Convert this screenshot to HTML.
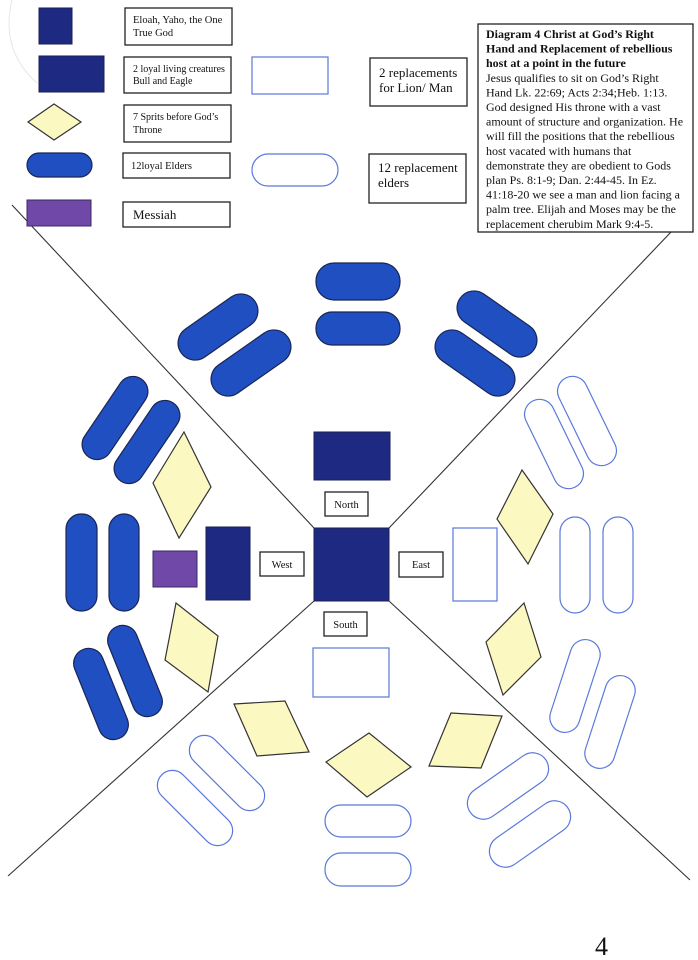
<!DOCTYPE html>
<html><head><meta charset="utf-8"><style>
html,body{margin:0;padding:0;background:#fff;}
svg{display:block;}
text{font-family:"Liberation Serif",serif;fill:#111;}
</style></head><body>
<svg width="698" height="960" viewBox="0 0 698 960" xmlns="http://www.w3.org/2000/svg">
<defs>
<style>
.nv{fill:#1e2a82;stroke:#1a1f55;stroke-width:1}
.el{fill:#1f4fc0;stroke:#1a2555;stroke-width:1.2}
.ol{fill:#fff;stroke:#5a78dc;stroke-width:1.2}
.dm{fill:#fcf8c2;stroke:#333;stroke-width:1.2}
.lb{fill:#fff;stroke:#222;stroke-width:1.3}
.ln{stroke:#333;stroke-width:1.1;fill:none}
</style>
</defs>
<path d="M12 0 Q0 50 37 83" fill="none" stroke="#e6e6e6" stroke-width="1"/>
<!-- diagonals -->
<line class="ln" x1="12" y1="205" x2="314" y2="528"/>
<line class="ln" x1="671" y1="232" x2="389" y2="528"/>
<line class="ln" x1="314" y1="601" x2="8" y2="876"/>
<line class="ln" x1="389" y1="601" x2="690" y2="880"/>

<!-- legend -->
<rect class="nv" x="39" y="8" width="33" height="36"/>
<rect class="lb" x="125" y="8" width="107" height="37"/>
<text x="133" y="23" font-size="10.5">Eloah, Yaho, the One</text>
<text x="133" y="36" font-size="10.5">True God</text>

<rect class="nv" x="39" y="56" width="65" height="36"/>
<rect class="lb" x="124" y="57" width="107" height="36"/>
<text x="133" y="72" font-size="10">2 loyal living creatures</text>
<text x="133" y="84" font-size="10">Bull and Eagle</text>
<rect class="ol" x="252" y="57" width="76" height="37"/>
<rect class="lb" x="370" y="58" width="97" height="48"/>
<text x="379" y="77" font-size="13">2 replacements</text>
<text x="379" y="92" font-size="13">for Lion/ Man</text>

<polygon class="dm" points="54,104 81,122 54,140 28,122"/>
<rect class="lb" x="124" y="105" width="107" height="37"/>
<text x="133" y="120" font-size="10">7 Sprits before God’s</text>
<text x="133" y="133" font-size="10">Throne</text>

<rect class="el" x="27" y="153" width="65" height="24" rx="12"/>
<rect class="lb" x="123" y="153" width="107" height="25"/>
<text x="131" y="169" font-size="10.5">12loyal Elders</text>
<rect class="ol" x="252" y="154" width="86" height="32" rx="16"/>
<rect class="lb" x="369" y="154" width="97" height="49"/>
<text x="378" y="172" font-size="13">12 replacement</text>
<text x="378" y="187" font-size="13">elders</text>

<rect x="27" y="200" width="64" height="26" fill="#7048a8" stroke="#3a2a60" stroke-width="1"/>
<rect class="lb" x="123" y="202" width="107" height="25"/>
<text x="133" y="219" font-size="13">Messiah</text>

<!-- description box -->
<rect class="lb" x="478" y="24" width="215" height="208"/>
<g font-size="12">
<text x="486" y="38" font-weight="bold">Diagram 4  Christ at God’s Right</text>
<text x="486" y="52.6" font-weight="bold">Hand and Replacement of rebellious</text>
<text x="486" y="67.2" font-weight="bold">host at a point in the future</text>
<text x="486" y="81.8">Jesus qualifies to sit on God’s Right</text>
<text x="486" y="96.4">Hand Lk. 22:69; Acts 2:34;Heb. 1:13.</text>
<text x="486" y="111">God designed His throne with a vast</text>
<text x="486" y="125.6">amount of structure and organization. He</text>
<text x="486" y="140.2">will fill the positions that the rebellious</text>
<text x="486" y="154.8">host vacated with humans that</text>
<text x="486" y="169.4">demonstrate they are obedient to Gods</text>
<text x="486" y="184">plan Ps. 8:1-9; Dan. 2:44-45. In Ez.</text>
<text x="486" y="198.6">41:18-20 we see a man and lion facing a</text>
<text x="486" y="213.2">palm tree. Elijah and Moses may be the</text>
<text x="486" y="227.8">replacement cherubim Mark 9:4-5.</text>
</g>

<!-- top elders -->
<rect class="el" x="316" y="263" width="84" height="37" rx="18"/>
<rect class="el" x="316" y="312" width="84" height="33" rx="16"/>
<g transform="translate(218,327) rotate(-35)"><rect class="el" x="-45" y="-17" width="90" height="34" rx="17"/></g>
<g transform="translate(251,363) rotate(-35)"><rect class="el" x="-45" y="-17" width="90" height="34" rx="17"/></g>
<g transform="translate(497,324) rotate(35)"><rect class="el" x="-45" y="-17" width="90" height="34" rx="17"/></g>
<g transform="translate(475,363) rotate(35)"><rect class="el" x="-45" y="-17" width="90" height="34" rx="17"/></g>

<!-- left side -->
<g transform="translate(115,418) rotate(-56)"><rect class="el" x="-47" y="-15" width="94" height="30" rx="15"/></g>
<g transform="translate(147,442) rotate(-56)"><rect class="el" x="-47" y="-15" width="94" height="30" rx="15"/></g>
<polygon class="dm" points="184,432 211,487 179,538 153,483"/>
<rect class="el" x="66" y="514" width="31" height="97" rx="15"/>
<rect class="el" x="109" y="514" width="30" height="97" rx="15"/>
<rect x="153" y="551" width="44" height="36" fill="#7048a8" stroke="#3a2a60" stroke-width="1"/>
<rect class="nv" x="206" y="527" width="44" height="73"/>
<polygon class="dm" points="176,603 218,636 208,692 165,660"/>
<g transform="translate(135,671) rotate(68)"><rect class="el" x="-48" y="-15" width="96" height="30" rx="15"/></g>
<g transform="translate(101,694) rotate(68)"><rect class="el" x="-48" y="-15" width="96" height="30" rx="15"/></g>

<!-- center -->
<rect class="nv" x="314" y="432" width="76" height="48"/>
<rect class="nv" x="314" y="528" width="75" height="73"/>
<rect class="lb" x="325" y="492" width="43" height="24"/>
<text x="346.5" y="508" font-size="10.5" text-anchor="middle">North</text>
<rect class="lb" x="260" y="552" width="44" height="24"/>
<text x="282" y="568" font-size="10.5" text-anchor="middle">West</text>
<rect class="lb" x="399" y="552" width="44" height="25"/>
<text x="421" y="568" font-size="10.5" text-anchor="middle">East</text>
<rect class="lb" x="324" y="612" width="43" height="24"/>
<text x="345.5" y="628" font-size="10.5" text-anchor="middle">South</text>
<rect class="ol" x="313" y="648" width="76" height="49"/>

<!-- right side -->
<g transform="translate(554,444) rotate(64)"><rect class="ol" x="-48" y="-15" width="96" height="30" rx="15"/></g>
<g transform="translate(587,421) rotate(64)"><rect class="ol" x="-48" y="-15" width="96" height="30" rx="15"/></g>
<polygon class="dm" points="522,470 553,514 528,564 497,519"/>
<rect class="ol" x="453" y="528" width="44" height="73"/>
<rect class="ol" x="560" y="517" width="30" height="96" rx="15"/>
<rect class="ol" x="603" y="517" width="30" height="96" rx="15"/>
<polygon class="dm" points="524,603 541,657 503,695 486,642"/>
<g transform="translate(575,686) rotate(-72)"><rect class="ol" x="-48" y="-15" width="96" height="30" rx="15"/></g>
<g transform="translate(610,722) rotate(-72)"><rect class="ol" x="-48" y="-15" width="96" height="30" rx="15"/></g>

<!-- bottom -->
<polygon class="dm" points="234,704 285,701 309,752 257,756"/>
<polygon class="dm" points="369,733 411,767 367,797 326,762"/>
<polygon class="dm" points="451,713 502,716 481,768 429,766"/>
<g transform="translate(227,773) rotate(45)"><rect class="ol" x="-47" y="-15" width="94" height="30" rx="15"/></g>
<g transform="translate(195,808) rotate(45)"><rect class="ol" x="-47" y="-15" width="94" height="30" rx="15"/></g>
<rect class="ol" x="325" y="805" width="86" height="32" rx="16"/>
<rect class="ol" x="325" y="853" width="86" height="33" rx="16"/>
<g transform="translate(508,786) rotate(-35)"><rect class="ol" x="-46" y="-16" width="92" height="32" rx="16"/></g>
<g transform="translate(530,834) rotate(-35)"><rect class="ol" x="-46" y="-16" width="92" height="32" rx="16"/></g>

<text x="595" y="955" font-size="26" font-family="Liberation Sans,sans-serif" fill="#222">4</text>
</svg>
</body></html>
